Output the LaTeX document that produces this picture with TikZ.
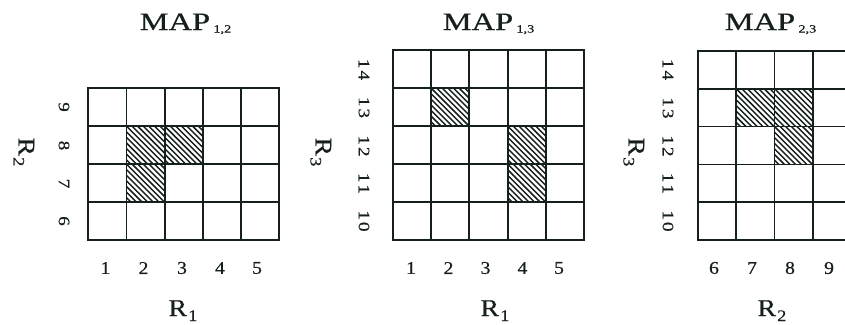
\documentclass[tikz,border=0pt]{standalone}
\usepackage{fontspec}
\setmainfont{Liberation Serif}[FakeBold=0.45]
\definecolor{ink}{RGB}{22,32,27}
\newcommand{\tsub}[1]{\kern2.5pt\raisebox{-2.5pt}{\fontsize{11}{11}\selectfont #1}}
\newcommand{\rsub}[1]{\kern1pt\raisebox{-5pt}{\fontsize{16}{16}\selectfont #1}}
\newcommand{\dd}[2]{#1\kern1.6pt#2}
\newcommand{\hatchcell}[4]{% x0, y0, w, h
  \begin{scope}
    \clip (#1,#2) rectangle (#1+#3,#2+#4);
    \foreach \k in {-8,...,8}
      \draw[hatchline] (#1+\k*5.6,#2) -- ++(#4,#4);
  \end{scope}}
\tikzset{
  gridline/.style={draw=ink, line width=1.8pt, line cap=rect},
  hatchline/.style={draw=ink, line width=1.45pt},
  titletext/.style={font=\fontsize{25}{25}\selectfont, text=ink, xscale=1.3, anchor=base, inner sep=0pt},
  axistext/.style={font=\fontsize{24}{24}\selectfont, text=ink, xscale=1.15, anchor=base, inner sep=0pt},
  sideaxis/.style={font=\fontsize{24}{24}\selectfont, text=ink, rotate=-90, xscale=1.15, anchor=base, inner sep=0pt},
  botnum/.style={font=\fontsize{18}{18}\selectfont, text=ink, xscale=1.1, inner sep=0pt},
  sidenum/.style={font=\fontsize{16}{16}\selectfont, text=ink, rotate=-90, xscale=1.2, inner sep=0pt},
}
\begin{document}
\begin{tikzpicture}[x=1pt, y=-1pt]
\useasboundingbox (0,0) rectangle (845,324);
\clip (0,0) rectangle (845,324);

% ---------------- MAP 1,2 ----------------
\def\xa{88.3}\def\wa{38.2}\def\ya{88.3}\def\ha{37.9}
\foreach \c/\r in {1/1,1/2,2/1}
  \hatchcell{\xa+\c*\wa}{\ya+\r*\ha}{\wa}{\ha};
\foreach \i in {0,...,5}
  \draw[gridline] (\xa+\i*\wa, \ya) -- (\xa+\i*\wa, \ya+4*\ha);
\foreach \j in {0,...,4}
  \draw[gridline] (\xa, \ya+\j*\ha) -- (\xa+5*\wa, \ya+\j*\ha);
\node[titletext] (t12) at (185.5,30) {MAP\tsub{1,2}};
\foreach \n/\x in {1/105.5,2/143.5,3/182,4/220,5/257}
  \node[botnum] (a1n\n) at (\x,268) {\n};
\foreach \n/\y in {9/107,8/145.5,7/183.5,6/221}
  \node[sidenum] (a1s\n) at (64,\y) {\n};
\node[axistext] (a1x) at (183,316) {R\rsub{1}};
\node[sideaxis] (a1y) at (18.5,152) {R\rsub{2}};

% ---------------- MAP 1,3 ----------------
\def\xb{392.7}\def\wb{38.3}\def\yb{50}\def\hb{38}
\foreach \c/\r in {1/1,3/2,3/3}
  \hatchcell{\xb+\c*\wb}{\yb+\r*\hb}{\wb}{\hb};
\foreach \i in {0,...,5}
  \draw[gridline] (\xb+\i*\wb, \yb) -- (\xb+\i*\wb, \yb+5*\hb);
\foreach \j in {0,...,5}
  \draw[gridline] (\xb, \yb+\j*\hb) -- (\xb+5*\wb, \yb+\j*\hb);
\node[titletext] (t13) at (488.5,30) {MAP\tsub{1,3}};
\foreach \n/\x in {1/411,2/448.5,3/485.5,4/522.5,5/559}
  \node[botnum] (a2n\n) at (\x,268) {\n};
\foreach \n/\y in {14/69.5,13/107.5,12/146,11/183.5,10/221}
  \node[sidenum] (a2s\n) at (364,\y) {\expandafter\dd\n};
\node[axistext] (a2x) at (495,316) {R\rsub{1}};
\node[sideaxis] (a2y) at (315.5,152) {R\rsub{3}};

% ---------------- MAP 2,3 ----------------
\def\xc{697.7}\def\wc{38.4}\def\yc{50.7}\def\hc{37.9}
\foreach \c/\r in {1/1,2/1,2/2}
  \hatchcell{\xc+\c*\wc}{\yc+\r*\hc}{\wc}{\hc};
\foreach \i in {0,...,5}
  \draw[gridline] (\xc+\i*\wc, \yc) -- (\xc+\i*\wc, \yc+5*\hc);
\foreach \j in {0,...,5}
  \draw[gridline] (\xc, \yc+\j*\hc) -- (\xc+5*\wc, \yc+\j*\hc);
\node[titletext] (t23) at (770.5,30) {MAP\tsub{2,3}};
\foreach \n/\x in {6/714,7/752,8/790,9/829}
  \node[botnum] (a3n\n) at (\x,268) {\n};
\foreach \n/\y in {14/69.5,13/108,12/146,11/183.5,10/221}
  \node[sidenum] (a3s\n) at (668,\y) {\expandafter\dd\n};
\node[axistext] (a3x) at (772,316) {R\rsub{2}};
\node[sideaxis] (a3y) at (628.5,152) {R\rsub{3}};
\end{tikzpicture}
\end{document}
